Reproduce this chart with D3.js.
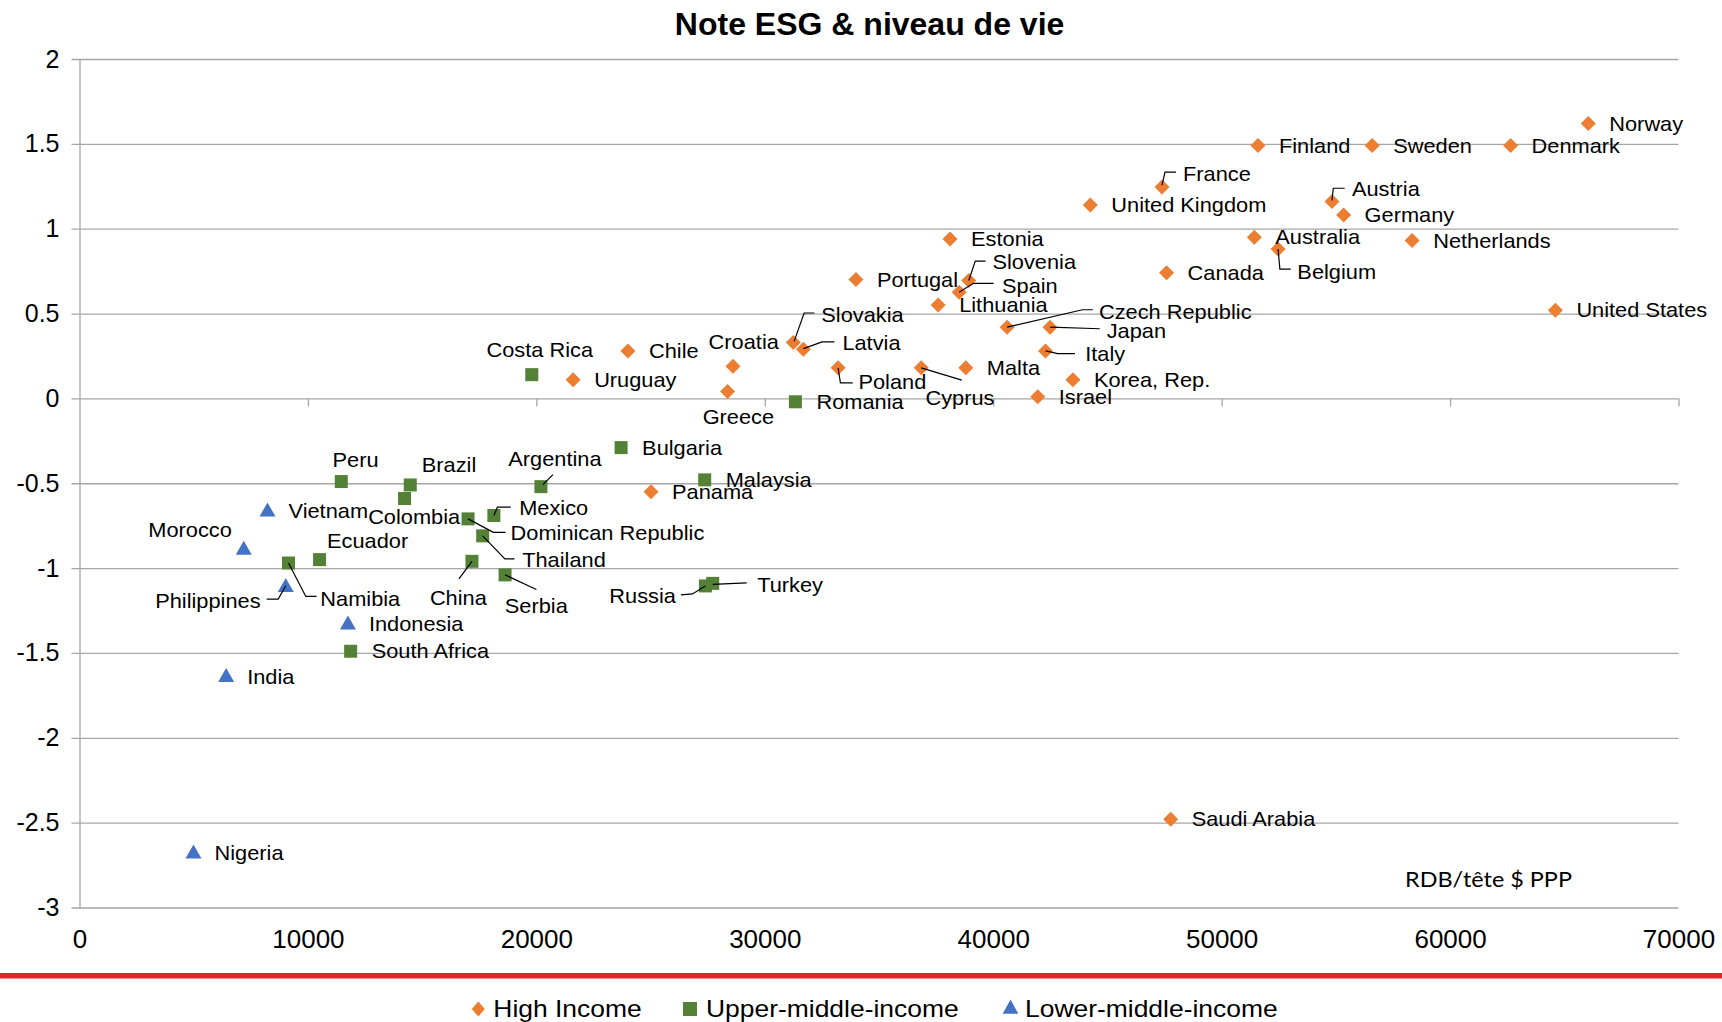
<!DOCTYPE html>
<html><head><meta charset="utf-8">
<script src="https://cdn.jsdelivr.net/npm/d3@7"></script>
<style>body{margin:0;background:#fff}svg{display:block}</style>
</head><body><svg id="chart" width="1722" height="1022"></svg>
<script>
// ---------------- DATA ----------------
const title = "Note ESG & niveau de vie";
const xAxisTitle = "RDB/tête $ PPP";
const seriesNames = ["High Income", "Upper-middle-income", "Lower-middle-income"];

const highNames = ["Norway","Denmark","Sweden","Finland","France","United Kingdom","Austria","Germany","Australia","Belgium","Netherlands","Canada","United States","Estonia","Portugal","Slovenia","Spain","Lithuania","Czech Republic","Japan","Italy","Korea, Rep.","Israel","Malta","Cyprus","Poland","Slovakia","Latvia","Croatia","Greece","Chile","Uruguay","Panama","Saudi Arabia"];
const highGdp = [66050,62650,56590,51590,47390,44250,54830,55340,51430,52470,58340,47590,64610,38110,33990,38930,38510,37590,40610,42490,42290,43490,41950,38800,36850,33210,31250,31690,28610,28370,24010,21610,25020,47770];
const highEsg = [1.62,1.49,1.49,1.49,1.245,1.14,1.16,1.08,0.95,0.88,0.93,0.74,0.52,0.94,0.70,0.695,0.625,0.55,0.42,0.42,0.28,0.11,0.01,0.18,0.18,0.18,0.33,0.29,0.19,0.04,0.28,0.11,-0.55,-2.48];

const upperNames = ["Costa Rica","Romania","Bulgaria","Malaysia","Argentina","Peru","Brazil","Colombia","Mexico","Dominican Republic","Thailand","China","Serbia","Ecuador","Namibia","South Africa","Russia","Turkey"];
const upperGdp = [19800,31340,23710,27370,20200,11460,14480,14230,18140,17010,17650,17180,18630,10510,9150,11870,27400,27720];
const upperEsg = [0.14,-0.02,-0.29,-0.48,-0.52,-0.49,-0.51,-0.59,-0.69,-0.71,-0.81,-0.96,-1.04,-0.95,-0.97,-1.49,-1.105,-1.09];

const lowerNames = ["Vietnam","Morocco","Philippines","Indonesia","India","Nigeria"];
const lowerGdp = [8230,7190,9030,11750,6420,4990];
const lowerEsg = [-0.665,-0.89,-1.11,-1.33,-1.64,-2.68];

const xTicks = [0,10000,20000,30000,40000,50000,60000,70000];
const xTickLabels = ["0","10000","20000","30000","40000","50000","60000","70000"];
const yTicks = [2,1.5,1,0.5,0,-0.5,-1,-1.5,-2,-2.5,-3];
const yTickLabels = ["2","1.5","1","0.5","0","-0.5","-1","-1.5","-2","-2.5","-3"];

// ---------------- LAYOUT / STYLE ----------------
const W = 1722, H = 1022;
const FONT = "'Liberation Sans', Arial, Helvetica, sans-serif";
const colors = ["#ED7D31", "#538135", "#4472C4"];
const gridColor = "#a6a6a6";

// label placement (offsets from marker centre, px) - default: right of marker
const labelLayout = {
  "France": {a:"start", dx:21, dy:-13.4, lead:[[0,-2],[3,-15],[14,-15]]},
  "Austria": {a:"start", dx:20, dy:-12.7, lead:[[0,-1],[1.3,-13.3],[12.7,-13.3]]},
  "Belgium": {a:"start", dx:19.3, dy:22.4, lead:[[0,0],[1.8,20],[12.7,20]]},
  "Slovenia": {a:"start", dx:23.7, dy:-18.3, lead:[[0,0],[6.5,-19.3],[16.8,-19.3]]},
  "Spain": {a:"start", dx:42.8, dy:-6.7, lead:[[0,0],[14.1,-9],[34.4,-9]]},
  "Czech Republic": {a:"start", dx:91.8, dy:-15, lead:[[0,0],[75.4,-17.4],[85.7,-17.4]]},
  "Japan": {a:"start", dx:56.6, dy:3.3, lead:[[0,0],[49.7,1.6]]},
  "Italy": {a:"start", dx:39.7, dy:3.3, lead:[[0,0],[12.2,2.7],[29.4,2.7]]},
  "Cyprus": {a:"start", dx:4.2, dy:30, lead:[[0,0],[40.5,12.3]]},
  "Poland": {a:"start", dx:20.3, dy:14, lead:[[0,0],[2.3,15],[14.6,15]]},
  "Slovakia": {a:"start", dx:28, dy:-27.7, lead:[[0.8,-1],[10.8,-29.4],[21.1,-29.4]]},
  "Latvia": {a:"start", dx:39, dy:-6.6, lead:[[0,-0.6],[18.7,-7.3],[31,-7.3]]},
  "Croatia": {a:"middle", dx:10.7, dy:-24.3},
  "Greece": {a:"middle", dx:10.8, dy:25.5},
  "Costa Rica": {a:"middle", dx:8, dy:-25},
  "Russia": {a:"end", dx:-29.5, dy:9.7, lead:[[0,0],[-13,8],[-24.5,9]]},
  "Turkey": {a:"start", dx:44.5, dy:1, lead:[[0,1],[34,-0.5]]},
  "Argentina": {a:"middle", dx:14, dy:-28, lead:[[2,-2],[12,-12]]},
  "Mexico": {a:"start", dx:25.3, dy:-7.3, lead:[[0,0],[3.5,-8.3],[16.9,-8.3]]},
  "Dominican Republic": {a:"start", dx:42.5, dy:14.4, lead:[[0,0],[25.3,13.4],[37.5,13.4]]},
  "Thailand": {a:"start", dx:39.5, dy:24, lead:[[0,0],[22.2,23],[31.8,23]]},
  "China": {a:"middle", dx:-13.6, dy:36, lead:[[0,0],[-13,17.6]]},
  "Serbia": {a:"middle", dx:31.2, dy:31.3, lead:[[0,0],[31.3,14.6]]},
  "Peru": {a:"middle", dx:14.3, dy:-21.4},
  "Brazil": {a:"start", dx:11.5, dy:-19.7},
  "Colombia": {a:"middle", dx:9.6, dy:18.6},
  "Ecuador": {a:"middle", dx:48, dy:-19},
  "Namibia": {a:"start", dx:31.8, dy:36, lead:[[0,0],[17.3,33.4],[28,33.4]]},
  "Morocco": {a:"end", dx:-11.9, dy:-19.3},
  "Philippines": {a:"end", dx:-25.2, dy:14, lead:[[0,-1],[-7.6,12.3],[-19.1,12.3]]}
};

// ---------------- DRAW ----------------
const svg = d3.select("#chart");
svg.append("rect").attr("width", W).attr("height", H).attr("fill", "#fff");

const x = d3.scaleLinear().domain([0, 70000]).range([79.5, 1678.5]);
const y = d3.scaleLinear().domain([-3, 2]).range([907.5, 59]);

// Y axis with gridlines
const yAxis = d3.axisLeft(y).tickValues(yTicks)
  .tickFormat((d, i) => yTickLabels[i])
  .tickSizeInner(-(x(70000) - x(0))).tickSizeOuter(0).tickPadding(20);
const gy = svg.append("g").attr("transform", `translate(${x(0)},0)`).call(yAxis);
gy.select(".domain").attr("stroke", gridColor).attr("stroke-width", 1.3);
gy.selectAll(".tick line").attr("x1", -8).attr("stroke", gridColor).attr("stroke-width", 1.3);
gy.selectAll(".tick text").attr("font-family", FONT).attr("font-size", 25).attr("fill", "#000");

// X axis tick marks at y = 0
const xTickAxis = d3.axisBottom(x).tickValues(xTicks.slice(1)).tickFormat("").tickSize(8).tickSizeOuter(0);
const gxt = svg.append("g").attr("transform", `translate(0,${y(0)})`).call(xTickAxis);
gxt.select(".domain").remove();
gxt.selectAll(".tick line").attr("stroke", gridColor).attr("stroke-width", 1.3);

// X axis labels at bottom
const xLabAxis = d3.axisBottom(x).tickValues(xTicks).tickFormat((d, i) => xTickLabels[i]).tickSize(0).tickPadding(22);
const gxl = svg.append("g").attr("transform", `translate(0,${y(-3)})`).call(xLabAxis);
gxl.select(".domain").remove();
gxl.selectAll(".tick text").attr("font-family", FONT).attr("font-size", 26).attr("fill", "#000");

// marker shapes
const shapes = [
  "M0,-7.5L7.5,0L0,7.5L-7.5,0Z",
  "M-6.5,-6.5H6.5V6.5H-6.5Z",
  "M0,-8.7L8,5.3L-8,5.3Z"
];

const groups = [
  {names: highNames, gdp: highGdp, esg: highEsg},
  {names: upperNames, gdp: upperGdp, esg: upperEsg},
  {names: lowerNames, gdp: lowerGdp, esg: lowerEsg}
];

const marks = svg.append("g");
groups.forEach((g, gi) => {
  const pts = g.names.map((n, i) => ({n, x: g.gdp[i], y: g.esg[i]}));
  marks.selectAll(null).data(pts).enter().append("path")
    .attr("d", shapes[gi])
    .attr("transform", d => `translate(${x(d.x)},${y(d.y)})`)
    .attr("fill", colors[gi]);
});

const LFS = 20, LSX = 1.09;
const labels = svg.append("g");
groups.forEach((g, gi) => {
  g.names.forEach((n, i) => {
    const px = x(g.gdp[i]), py = y(g.esg[i]);
    const L = labelLayout[n] || {a: "start", dx: 21, dy: 0};
    if (L.lead) {
      labels.append("polyline")
        .attr("points", L.lead.map(p => `${px + p[0]},${py + p[1]}`).join(" "))
        .attr("fill", "none").attr("stroke", "#000").attr("stroke-width", 1.2);
    }
    labels.append("text")
      .attr("transform", `translate(${px + L.dx},${py + L.dy + 0.36 * LFS}) scale(${LSX},1)`)
      .attr("text-anchor", L.a)
      .attr("font-family", FONT).attr("font-size", LFS).attr("fill", "#000")
      .text(n);
  });
});

// title
svg.append("text").attr("x", 869.6).attr("y", 35).attr("text-anchor", "middle")
  .attr("font-family", FONT).attr("font-weight", "bold").attr("font-size", 32).attr("fill", "#000")
  .text(title);

// axis title
svg.append("text").attr("x", 1405).attr("y", 887).attr("textLength", 167).attr("lengthAdjust", "spacingAndGlyphs")
  .attr("font-family", "Lato, 'Open Sans', sans-serif").attr("font-size", 22).attr("fill", "#000")
  .text(xAxisTitle);

// red separator
svg.append("rect").attr("x", 0).attr("y", 973).attr("width", W).attr("height", 5.5).attr("fill", "#EE2027");

// legend
const legendX = [478.3, 690, 1010.5];
const legendTextX = [493.3, 706, 1025];
const legendShapes = [
  "M0,-7.5L6.5,0L0,7.5L-6.5,0Z",
  "M-7,-7H7V7H-7Z",
  "M0,-9.5L7.8,4.8L-7.8,4.8Z"
];
const legend = svg.append("g");
seriesNames.forEach((s, i) => {
  legend.append("path").attr("d", legendShapes[i])
    .attr("transform", `translate(${legendX[i]},1009)`).attr("fill", colors[i]);
  legend.append("text")
    .attr("transform", `translate(${legendTextX[i]},1017.3) scale(1.15,1)`)
    .attr("font-family", FONT).attr("font-size", 23).attr("fill", "#000")
    .text(s);
});
</script></body></html>
